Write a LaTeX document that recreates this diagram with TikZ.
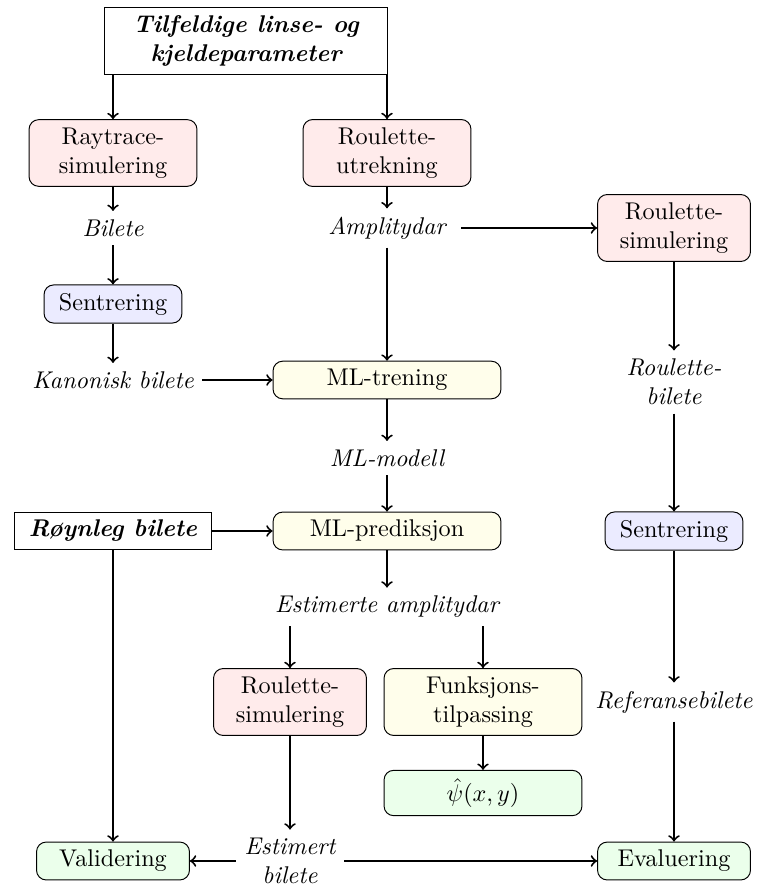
\documentclass[tikz,border=0pt]{standalone}
\usepackage{amsmath}
\tikzset{bx/.append style={draw,rounded corners,align=center}}
\tikzset{rd/.append style={fill=red!8}}
\tikzset{bl/.append style={fill=blue!8}}
\tikzset{yl/.append style={fill=yellow!8}}
\tikzset{gr/.append style={fill=green!8}}
\tikzset{inn/.append style={draw,align=center,font=\bfseries\itshape}}
\tikzset{dat/.append style={align=center,font=\itshape}}
\tikzset{pil/.append style={->,thick}}

\begin{document}
\begin{tikzpicture}[x=0.4133pt,y=-0.4133pt]
                \useasboundingbox (0,0) rectangle (767,891);
                % inndata
                \node[inn,minimum width=117pt,minimum height=27.7pt] (top) at (246,41) {Tilfeldige linse- og\\kjeldeparameter};
                \node[inn,minimum width=81.8pt] (roy) at (113,531) {Røynleg bilete};
                % venstre
                \node[bx,rd,minimum width=69.4pt] (rt) at (113,153) {Raytrace-\\simulering};
                \node[dat] (bil) at (113,228) {Bilete};
                \node[bx,bl,minimum width=57pt] (sen) at (113,304) {Sentrering};
                \node[dat] (kan) at (113,380) {Kanonisk bilete};
                \node[bx,gr,minimum width=63.2pt] (val) at (113,861) {Validering};
                % midten
                \node[bx,rd,minimum width=69.4pt] (ru) at (387,153) {Roulette-\\utrekning};
                \node[dat] (amp) at (387,228) {Amplitydar};
                \node[bx,yl,minimum width=94.2pt] (mlt) at (387,380) {ML-trening};
                \node[dat] (mlm) at (387,458) {ML-modell};
                \node[bx,yl,minimum width=94.2pt] (mlp) at (387,531) {ML-prediksjon};
                \node[dat] (est) at (387,607) {Estimerte amplitydar};
                \node[bx,rd,minimum width=63.2pt] (rs2) at (290,702) {Roulette-\\simulering};
                \node[bx,yl,minimum width=81.8pt] (fun) at (483,702) {Funksjons-\\tilpassing};
                \node[bx,gr,minimum width=81.8pt] (psi) at (483,793) {$\hat{\psi}(x,y)$};
                \node[dat] (eb) at (290,861) {Estimert\\bilete};
                % hogre
                \node[bx,rd,minimum width=63.2pt] (rs) at (674,228) {Roulette-\\simulering};
                \node[dat] (rb) at (674,382) {Roulette-\\bilete};
                \node[bx,bl,minimum width=57pt] (sen2) at (674,531) {Sentrering};
                \node[dat] (ref) at (674,702) {Referansebilete};
                \node[bx,gr,minimum width=63.2pt] (eva) at (674,861) {Evaluering};
                % piler
                \path (top.south -| rt) edge[pil] (rt);
                \path (top.south -| ru) edge[pil] (ru);
                \path (rt) edge[pil] (bil);
                \path (bil) edge[pil] (sen);
                \path (sen) edge[pil] (kan);
                \path (kan) edge[pil] (mlt);
                \path (ru) edge[pil] (amp);
                \path (amp) edge[pil] (mlt);
                \path ([xshift=3pt]amp.east) edge[pil] (rs);
                \path (rs) edge[pil] (rb);
                \path (rb) edge[pil] (sen2);
                \path (sen2) edge[pil] (ref);
                \path (ref) edge[pil] (eva);
                \path (mlt) edge[pil] (mlm);
                \path (mlm) edge[pil] (mlp);
                \path (roy) edge[pil] (mlp);
                \path (roy) edge[pil] (val);
                \path (mlp) edge[pil] (est);
                \path (est.south -| rs2) edge[pil] (rs2);
                \path (est.south -| fun) edge[pil] (fun);
                \path (fun) edge[pil] (psi);
                \path (rs2) edge[pil] (eb);
                \path (eb) edge[pil] (val);
                \path (eb) edge[pil] (eva);
            \end{tikzpicture}
\end{document}
